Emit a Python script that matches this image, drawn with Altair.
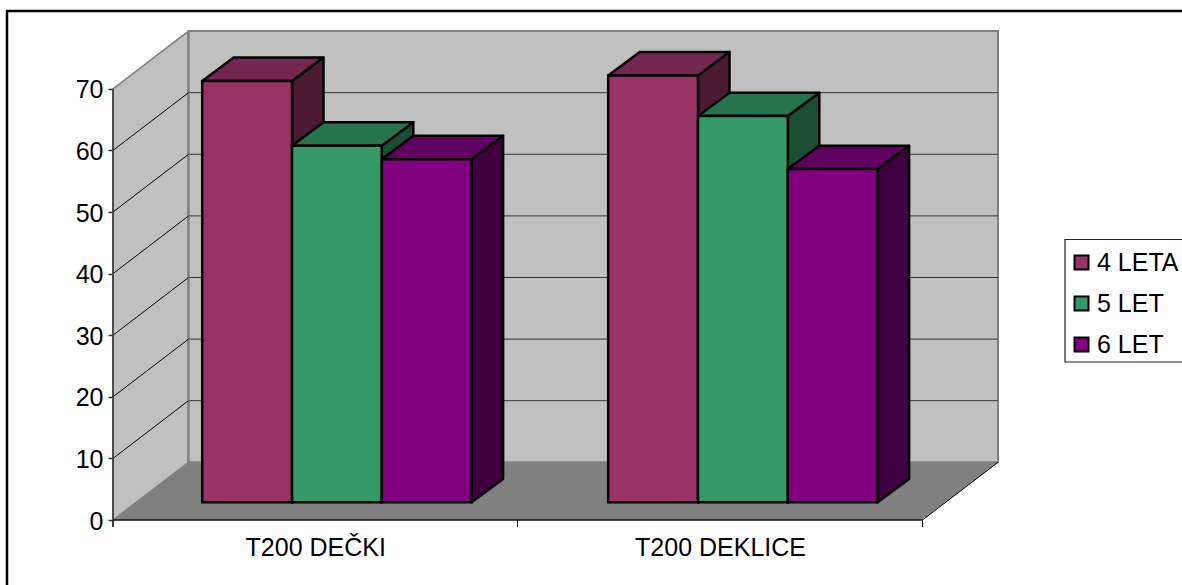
import altair as alt
import pandas as pd

# Chart values
categories = ["T200 DEČKI", "T200 DEKLICE"]
series = ["4 LETA", "5 LET", "6 LET"]
values_boys = [68.4, 57.9, 55.7]
values_girls = [69.3, 62.7, 54.1]
axis_ticks = [0, 10, 20, 30, 40, 50, 60, 70]
front_colors = ["#993366", "#339966", "#800080"]
top_colors = ["#732650", "#26734D", "#600060"]
side_colors = ["#4D1A33", "#1A4D33", "#400040"]

# Pixel geometry of the pseudo-3D box
W, H = 1182, 585
PX_PER_UNIT = 6.16
BASE_Y = 520
AXIS_X, FLOOR_RIGHT = 113, 922.5
WALL_DX, WALL_DV = 75.5, 57.7 / PX_PER_UNIT
BAR_DX, BAR_DV = 31.5, 23.4 / PX_PER_UNIT
BAR_LIFT = 17.7 / PX_PER_UNIT
BAR_W = 89.8
GROUP_LEFT = [202.2, 608.2]
CAT_TICKS = [113, 517.5, 922.5]
FONT = "Liberation Sans"
FONT_SIZE = 25


def from_top(px):
    """Value on the y scale for a distance in pixels from the top of the chart."""
    return (BASE_Y - px) / PX_PER_UNIT


centers = [(CAT_TICKS[i] + CAT_TICKS[i + 1]) / 2 for i in range(len(categories))]
label_expr = f"datum.value < {CAT_TICKS[1]} ? '{categories[0]}' : '{categories[1]}'"

x_axis = alt.Axis(
    values=centers, labelExpr=label_expr, title=None, domain=False, ticks=False, grid=False,
    orient="bottom", offset=BASE_Y - H, labelPadding=15, labelFontSize=FONT_SIZE,
    labelFont=FONT, labelColor="black", labelOverlap=False, labelFlush=False,
)
y_axis = alt.Axis(
    values=axis_ticks, title=None, domain=False, grid=False, orient="left",
    offset=-AXIS_X, tickSize=5, tickColor="#333333", tickWidth=1.5, labelPadding=5,
    labelFontSize=FONT_SIZE, labelFont=FONT, labelColor="black", labelOverlap=False,
    labelFlush=False, labelOffset=1,
)
x_scale = alt.Scale(domain=[0, W], range=[0, W], nice=False, zero=False)
y_scale = alt.Scale(domain=[from_top(H), from_top(0)], range=[H, 0], nice=False, zero=False)

X = alt.X("x:Q", scale=x_scale, axis=x_axis)
Y = alt.Y("y:Q", scale=y_scale, axis=y_axis, stack=None)
X2 = alt.X2("x2:Q")
Y2 = alt.Y2("y2:Q")
XH = alt.X("x:Q", scale=x_scale, axis=x_axis, stack=None)
YH = alt.Y("y:Q", scale=y_scale, axis=y_axis)


def vertical_face(key, x0, x1, lo, hi, dv):
    """Parallelogram with vertical edges at x0 and x1, rising by dv."""
    return [
        {"face": key, "x": x0, "y": lo, "y2": hi},
        {"face": key, "x": x1, "y": lo + dv, "y2": hi + dv},
    ]


def flat_face(key, x0, x1, v, dx, dv):
    """Parallelogram with horizontal edges receding by (dx, dv)."""
    return [
        {"face": key, "y": v, "x": x0, "x2": x1},
        {"face": key, "y": v + dv, "x": x0 + dx, "x2": x1 + dx},
    ]


# Bars: front rectangles, roofs and right-hand sides
fronts, tops, sides = [], [], []
for c, (cat, vals) in enumerate(zip(categories, [values_boys, values_girls])):
    for s, (name, v) in enumerate(zip(series, vals)):
        left = GROUP_LEFT[c] + s * BAR_W
        right = left + BAR_W
        key = f"{cat}-{name}"
        fronts.append({"series": name, "x": left, "x2": right, "y": BAR_LIFT, "y2": BAR_LIFT + v})
        for row in flat_face(key, left, right, BAR_LIFT + v, BAR_DX, BAR_DV):
            tops.append({**row, "series": name})
        for row in vertical_face(key, right, right + BAR_DX, BAR_LIFT, BAR_LIFT + v, BAR_DV):
            sides.append({**row, "series": name})

top_val = axis_ticks[-1]
back_left = AXIS_X + WALL_DX
back_right = FLOOR_RIGHT + WALL_DX

# Walls and floor
back_wall = alt.Chart(pd.DataFrame([
    {"x": back_left, "x2": back_right, "y": WALL_DV, "y2": top_val + WALL_DV}
])).mark_rect(fill="#C0C0C0", stroke="#808080", strokeWidth=2).encode(x=X, x2=X2, y=Y, y2=Y2)

left_wall = alt.Chart(pd.DataFrame(
    vertical_face("wall", AXIS_X, back_left, 0, top_val, WALL_DV)
)).mark_area(orient="vertical", fill="#C0C0C0", stroke="#808080", strokeWidth=1.5).encode(
    x=X, y=Y, y2=Y2, detail="face:N")

floor = alt.Chart(pd.DataFrame(
    flat_face("floor", AXIS_X, FLOOR_RIGHT, 0, WALL_DX, WALL_DV)
)).mark_area(orient="horizontal", fill="#808080").encode(
    x=XH, x2=X2, y=YH, detail="face:N")

# Gridlines across the back wall and along the left wall
grid_vals = [t for t in axis_ticks if 0 < t < top_val]
back_grid = alt.Chart(pd.DataFrame(
    [{"x": back_left, "x2": back_right, "y": t + WALL_DV} for t in grid_vals]
)).mark_rule(color="#333333", strokeWidth=1).encode(x=X, x2=X2, y=Y)

side_grid = alt.Chart(pd.DataFrame(
    [row for t in grid_vals for row in (
        {"tick": t, "x": AXIS_X, "y": t},
        {"tick": t, "x": back_left, "y": t + WALL_DV},
    )]
)).mark_line(color="black", strokeWidth=1).encode(x=X, y=Y, detail="tick:N")

post = alt.Chart(pd.DataFrame(
    [{"x": back_left, "y": WALL_DV, "y2": top_val + WALL_DV}]
)).mark_rule(color="#808080", strokeWidth=2).encode(x=X, y=Y, y2=Y2)

floor_edge = alt.Chart(pd.DataFrame(
    [{"x": FLOOR_RIGHT, "y": 0}, {"x": back_right, "y": WALL_DV}]
)).mark_line(color="black", strokeWidth=1).encode(x=X, y=Y)

# Axis lines and category ticks
tick_down = 7 / PX_PER_UNIT
value_line = alt.Chart(pd.DataFrame(
    [{"x": AXIS_X, "y": -tick_down, "y2": top_val}]
)).mark_rule(color="#333333", strokeWidth=1.5).encode(x=X, y=Y, y2=Y2)

cat_line = alt.Chart(pd.DataFrame(
    [{"x": AXIS_X, "x2": FLOOR_RIGHT, "y": 0}]
)).mark_rule(color="#111111", strokeWidth=1.5).encode(x=X, x2=X2, y=Y)

cat_ticks = alt.Chart(pd.DataFrame(
    [{"x": t, "y": -tick_down, "y2": 0} for t in CAT_TICKS]
)).mark_rule(color="#111111", strokeWidth=1).encode(x=X, y=Y, y2=Y2)

# Bars
bar_side = alt.Chart(pd.DataFrame(sides)).mark_area(
    orient="vertical", stroke="black", strokeWidth=2.5, strokeJoin="round"
).encode(
    x=X, y=Y, y2=Y2, detail="face:N",
    fill=alt.Fill("series:N", scale=alt.Scale(domain=series, range=side_colors), legend=None),
)
bar_top = alt.Chart(pd.DataFrame(tops)).mark_area(
    orient="horizontal", stroke="black", strokeWidth=2.5, strokeJoin="round"
).encode(
    x=XH, x2=X2, y=YH, detail="face:N",
    fill=alt.Fill("series:N", scale=alt.Scale(domain=series, range=top_colors), legend=None),
)
bar_front = alt.Chart(pd.DataFrame(fronts)).mark_rect(
    stroke="black", strokeWidth=2.5
).encode(
    x=X, x2=X2, y=Y, y2=Y2,
    fill=alt.Fill("series:N", scale=alt.Scale(domain=series, range=front_colors), legend=alt.Legend(
        orient="none", legendX=1069, legendY=250, title=None, symbolType="square",
        symbolSize=196, symbolStrokeColor="black", symbolStrokeWidth=2,
        labelFontSize=FONT_SIZE, labelFont=FONT, labelColor="black", labelOffset=3,
        padding=0, rowPadding=15,
    )),
)

# Legend box, running off the right edge of the window
legend_box = alt.Chart(pd.DataFrame(
    [{"x": 1065, "x2": W + 10, "y": from_top(239.5), "y2": from_top(362)}]
)).mark_rect(fill="white", stroke="#222222", strokeWidth=1.2).encode(x=X, x2=X2, y=Y, y2=Y2)

# Outer frame, open to the window on the right and at the bottom
frame_top = alt.Chart(pd.DataFrame([{"x": 6, "x2": W, "y": from_top(11)}])).mark_rule(
    color="black", strokeWidth=2.5).encode(x=X, x2=X2, y=Y)
frame_left = alt.Chart(pd.DataFrame([{"x": 7, "y": from_top(11), "y2": from_top(H)}])).mark_rule(
    color="black", strokeWidth=2.5).encode(x=X, y=Y, y2=Y2)

chart = alt.layer(
    legend_box, left_wall, back_wall, back_grid, post, side_grid, floor, floor_edge,
    value_line, cat_line, cat_ticks, frame_top, frame_left,
    bar_side, bar_top, bar_front,
).resolve_scale(fill="independent").properties(
    width=W, height=H, padding=0, background="white",
    autosize=alt.AutoSizeParams(type="none"),
).configure_view(stroke=None)

chart.save("out.html", embed_options={"renderer": "svg", "actions": False})
